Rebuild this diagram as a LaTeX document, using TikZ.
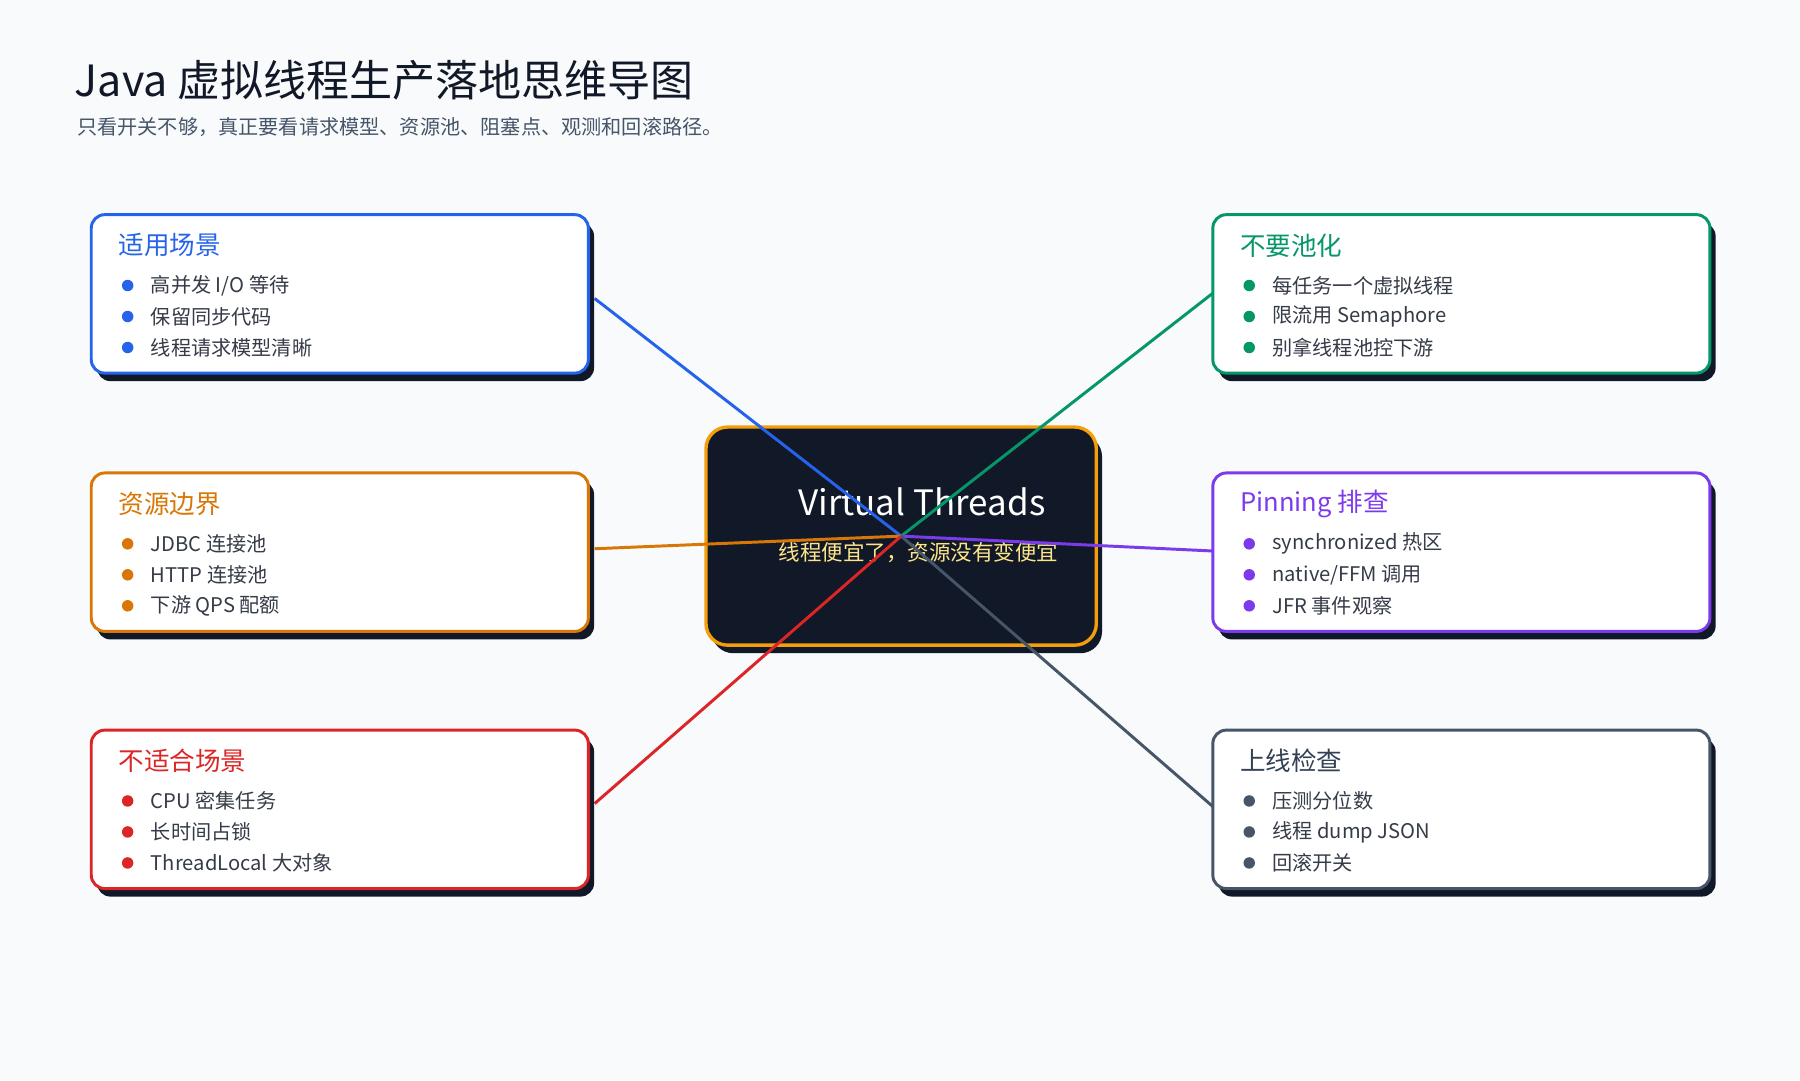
\documentclass[tikz,border=0pt]{standalone}
\usepackage{fontspec}
\setmainfont{Noto Sans CJK SC}
\usetikzlibrary{positioning,calc}
\definecolor{bgc}{HTML}{F8FAFC}
\definecolor{ink}{HTML}{111827}
\definecolor{subink}{HTML}{475569}
\definecolor{cblue}{HTML}{2563EB}
\definecolor{cgreen}{HTML}{059669}
\definecolor{corange}{HTML}{D97706}
\definecolor{cpurple}{HTML}{7C3AED}
\definecolor{cred}{HTML}{DC2626}
\definecolor{cgray}{HTML}{475569}
\definecolor{ctitle}{HTML}{334155}
\definecolor{hub}{HTML}{F59E0B}
\definecolor{hubsub}{HTML}{FDE68A}
\tikzset{
  branchbox/.style={draw=#1, line width=2.2pt, fill=white, rounded corners=10pt,
    minimum width=433*0.03cm, minimum height=138*0.03cm, inner sep=0pt},
  shadowbox/.style={fill=ink, rounded corners=10pt,
    minimum width=433*0.03cm, minimum height=138*0.03cm, inner sep=0pt},
  branchtitle/.style={anchor=west, text=#1, font=\fontsize{19}{22}\selectfont, inner sep=0pt},
  item/.style={anchor=west, text=ink!85, font=\fontsize{15}{18}\selectfont, inner sep=0pt},
  link/.style={draw=#1, line width=2.2pt},
}
% one branch: name, colour, title colour, centre, title, three items
\newcommand{\branch}[8]{%
  \node[shadowbox] at ($(#4)+(5,7)$) {};
  \node[branchbox=#2] (#1) at (#4) {};
  \node[branchtitle=#3] (#1t) at ($(#1.north west)+(25,28)$) {#5};
  \foreach \txt [count=\i] in {#6,#7,#8}{
    \fill[#2] ($(#1.north west)+(33,63+27*\i-27)$) circle (5);
    \node[item] at ($(#1.north west)+(53,63+27*\i-27)$) {\txt};
  }%
}
\begin{document}
\begin{tikzpicture}[x=0.03cm, y=-0.03cm]
    \fill[bgc] (0,0) rectangle (1568,941);
    \useasboundingbox (0,0) rectangle (1568,941);

    % Title
    \node[anchor=west, inner sep=0pt, text=ink, font=\fontsize{32}{36}\selectfont] (title) at (65,70) {Java 虚拟线程生产落地思维导图};
    \node[anchor=west, inner sep=0pt, text=subink, font=\fontsize{15}{18}\selectfont] (subtitle) at (67,111) {只看开关不够，真正要看请求模型、资源池、阻塞点、观测和回滚路径。};

    % Hub
    \node[fill=ink, rounded corners=16pt, minimum width=340*0.03cm, minimum height=190*0.03cm] at (790,474) {};
    \node[draw=hub, fill=ink, line width=2.5pt, rounded corners=16pt, minimum width=340*0.03cm, minimum height=190*0.03cm] (hubbox) at (785,467) {};
    \node[text=white, font=\fontsize{26}{30}\selectfont] (hubtitle) at (803,437) {Virtual Threads};
    \node[text=hubsub, font=\fontsize{16}{19}\selectfont] (hubsubtitle) at (800,481) {线程便宜了，资源没有变便宜};
    \coordinate (c) at (785,467);

    % Links
    \draw[link=cblue] (c) -- (518,260);
    \draw[link=corange] (c) -- (518,478);
    \draw[link=cred] (c) -- (518,700);
    \draw[link=cgreen] (c) -- (1057,255);
    \draw[link=cpurple] (c) -- (1057,480);
    \draw[link=cgray] (c) -- (1057,703);

    % Branches
    \branch{fit}{cblue}{cblue}{296,256}{适用场景}{高并发 I/O 等待}{保留同步代码}{线程请求模型清晰}
    \branch{res}{corange}{corange}{296,481}{资源边界}{JDBC 连接池}{HTTP 连接池}{下游 QPS 配额}
    \branch{unfit}{cred}{cred}{296,705}{不适合场景}{CPU 密集任务}{长时间占锁}{ThreadLocal 大对象}
    \branch{pool}{cgreen}{cgreen}{1273,256}{不要池化}{每任务一个虚拟线程}{限流用 Semaphore}{别拿线程池控下游}
    \branch{pin}{cpurple}{cpurple}{1273,481}{Pinning 排查}{synchronized 热区}{native/FFM 调用}{JFR 事件观察}
    \branch{check}{cgray}{ctitle}{1273,705}{上线检查}{压测分位数}{线程 dump JSON}{回滚开关}
\end{tikzpicture}
\end{document}
